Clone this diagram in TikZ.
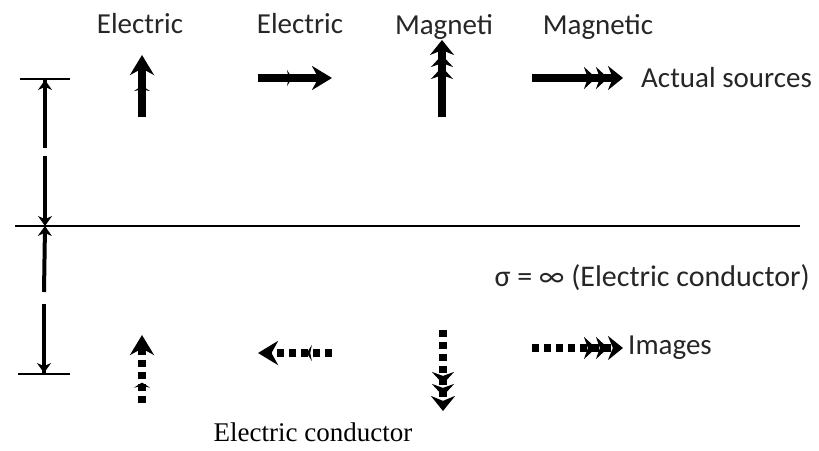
\documentclass[tikz,border=0pt]{standalone}
\usepackage{fontspec}
\setmainfont{Liberation Serif}
\setsansfont{Carlito}
\usepackage{tikz}
\usetikzlibrary{positioning, arrows.meta, decorations.markings}

\tikzset{
  etip/.tip={Stealth[length=20pt,width=24pt]},
  mtip/.tip={Stealth[length=12pt,width=22pt] Stealth[length=12pt,width=22pt] Stealth[length=15pt,width=24pt]},
  dtip/.tip={Stealth[length=10pt,width=14pt]},
  lbl/.style={font=\sffamily\fontsize{29}{31}\selectfont, text=black!85, inner sep=0pt},
  src/.style={line width=8pt},
  img/.style={line width=8pt, dash pattern=on 7pt off 5pt},
  midtip/.style={postaction={decorate, decoration={markings,
      mark=at position #1 with {\arrow{Stealth[length=5pt,width=16pt]}}}}},
  dim/.style={line width=4pt},
  ground/.style={line width=2pt}
}

\begin{document}
\begin{tikzpicture}[x=1pt, y=-1pt, node distance=155pt, on grid]
  \useasboundingbox (0,0) rectangle (819,450);

  % source labels
  \node[lbl] (eV) at (140,24) {Electric};
  \node[lbl] (eH) [right=160pt of eV] {Electric};
  \node[lbl] (mV) at (444,27) {Magneti};
  \node[lbl] (mH) [right=154pt of mV] {Magnetic};

  % actual sources
  \coordinate (eV0) at (142,117);
  \coordinate (eV1) at (142,55);
  \coordinate (eH0) at (258,78);
  \coordinate (eH1) at (332,78);
  \coordinate (mV0) at (442,117);
  \coordinate (mV1) at (442,40);
  \coordinate (mH0) at (532,78);
  \coordinate (mH1) at (623,78);
  \draw[src, -{etip[]}, midtip=0.5] (eV0) -- (eV1);
  \draw[src, -{etip[]}, midtip=0.46] (eH0) -- (eH1);
  \draw[src, -{mtip[]}] (mV0) -- (mV1);
  \draw[src, -{mtip[]}] (mH0) -- (mH1);
  \node[lbl, right=18pt of mH1, anchor=west] (actual) {Actual sources};

  % conductor surface
  \coordinate (gL) at (15,226);
  \coordinate (gR) at (800,226);
  \draw[ground] (gL) -- (gR);
  \node[lbl, anchor=east, font=\sffamily\fontsize{30}{32}\selectfont] (sigma) at (810,278) {σ = ∞ (Electric conductor)};

  % distances to the surface
  \coordinate (dT) at (45,78);
  \coordinate (dG1) at (45,148);
  \coordinate (dG2) at (45,156);
  \coordinate (dM) at (45,226);
  \coordinate (dG3) at (44,292);
  \coordinate (dG4) at (44,304);
  \coordinate (dB) at (44,375);
  \draw[dim, {Bar[width=50pt,line width=2pt] dtip[]}-] (dT) -- (dG1);
  \draw[dim, -{dtip[]}] (dG2) -- (dM);
  \draw[dim, {dtip[]}-] (dM) -- (dG3);
  \draw[dim, -{dtip[] Bar[width=52pt,line width=2pt]}] (dG4) -- (dB);

  % images
  \coordinate (ieV0) at (142,403);
  \coordinate (ieV1) at (142,335);
  \coordinate (ieH0) at (332,353);
  \coordinate (ieH1) at (258,353);
  \coordinate (imV0) at (443,330);
  \coordinate (imV1) at (443,411);
  \coordinate (imH0) at (532,348);
  \coordinate (imH1) at (623,348);
  \draw[img, -{etip[]}, midtip=0.3] (ieV0) -- (ieV1);
  \draw[img, -{etip[]}, midtip=0.34] (ieH0) -- (ieH1);
  \draw[img, -{mtip[]}] (imV0) -- (imV1);
  \draw[img, -{mtip[]}] (imH0) -- (imH1);
  \node[lbl, right=5pt of imH1, anchor=west] (images) {Images};

  \node[font=\fontsize{27}{29}\selectfont, inner sep=0pt, anchor=base] (capt) at (313,441) {Electric conductor};
\end{tikzpicture}
\end{document}
